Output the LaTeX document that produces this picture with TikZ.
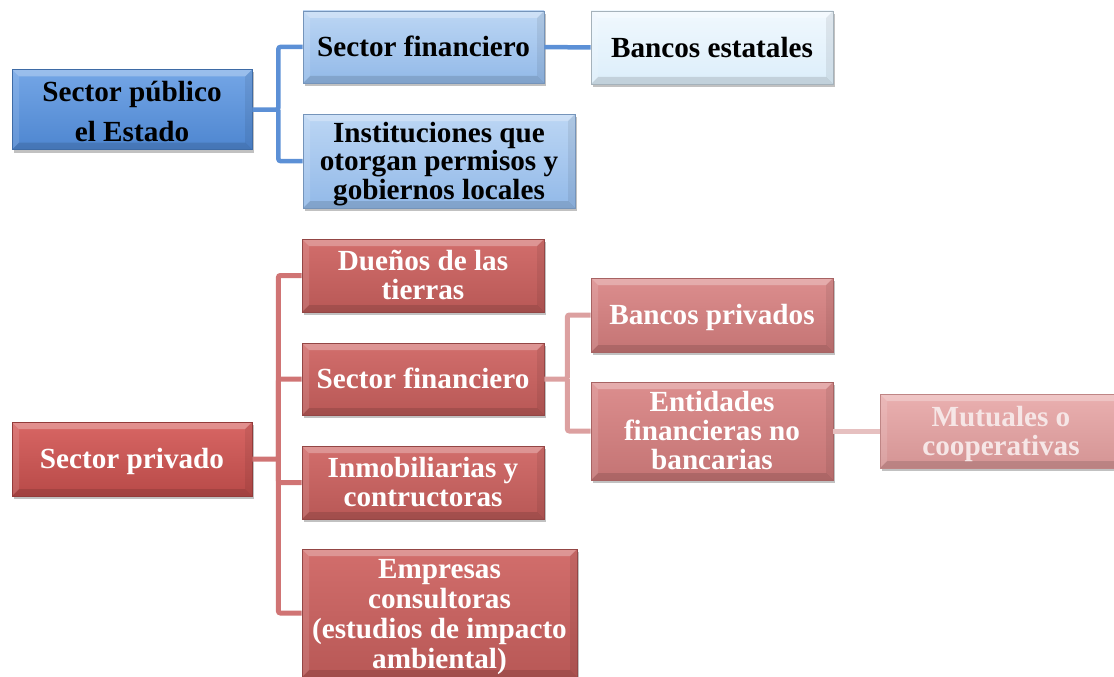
\documentclass[tikz,border=0pt]{standalone}
\usepackage{fontspec}
\setmainfont{Liberation Serif}
\usetikzlibrary{shadows}
\definecolor{bDarkT}{HTML}{74A6E6}
\definecolor{bDarkB}{HTML}{4E86D0}
\definecolor{bMidT}{HTML}{BCD6F4}
\definecolor{bMidB}{HTML}{92B9E8}
\definecolor{bLightT}{HTML}{F0F8FE}
\definecolor{bLightB}{HTML}{DCEEFA}
\definecolor{rDarkT}{HTML}{D86664}
\definecolor{rDarkB}{HTML}{B84A48}
\definecolor{rMidT}{HTML}{D26E6C}
\definecolor{rMidB}{HTML}{B85856}
\definecolor{rSubT}{HTML}{DC8E8E}
\definecolor{rSubB}{HTML}{C47474}
\definecolor{rLightT}{HTML}{EAB0B0}
\definecolor{rLightB}{HTML}{D49494}
\definecolor{bLine}{HTML}{5C90D6}
\definecolor{rLine}{HTML}{D07474}
\definecolor{rLine2}{HTML}{DCA0A0}
\definecolor{rLine3}{HTML}{E6C0C0}
\definecolor{mutText}{HTML}{F6E6E6}
\newcommand{\lbl}[2][29]{\raisebox{-4pt}[\height][\depth]{\fontsize{29.2}{#1}\selectfont\begin{tabular}{@{}c@{}}#2\end{tabular}}}
\tikzset{
  bevel/.style={path picture={
    \fill[white,opacity=0.28] (path picture bounding box.north west) -- (path picture bounding box.north east)
      -- ([xshift=-7pt,yshift=-7pt]path picture bounding box.north east) -- ([xshift=7pt,yshift=-7pt]path picture bounding box.north west) -- cycle;
    \fill[black,opacity=0.12] (path picture bounding box.south west) -- (path picture bounding box.south east)
      -- ([xshift=-7pt,yshift=7pt]path picture bounding box.south east) -- ([xshift=7pt,yshift=7pt]path picture bounding box.south west) -- cycle;
    \fill[white,opacity=0.12] (path picture bounding box.south west) -- (path picture bounding box.north west)
      -- ([xshift=7pt,yshift=-7pt]path picture bounding box.north west) -- ([xshift=7pt,yshift=7pt]path picture bounding box.south west) -- cycle;
    \fill[black,opacity=0.07] (path picture bounding box.south east) -- (path picture bounding box.north east)
      -- ([xshift=-7pt,yshift=-7pt]path picture bounding box.north east) -- ([xshift=-7pt,yshift=7pt]path picture bounding box.south east) -- cycle;
  }},
  box/.style={draw=#1, line width=0.8pt, inner sep=0pt, font=\bfseries, bevel,
    drop shadow={shadow xshift=2pt, shadow yshift=-3pt, opacity=0.35, fill=black!70}},
  bdark/.style={box=bDarkB!80!black, top color=bDarkT, bottom color=bDarkB, text=black},
  bmid/.style={box=bMidB!80!black, top color=bMidT, bottom color=bMidB, text=black},
  blight/.style={box=bLightB!75!black, top color=bLightT, bottom color=bLightB, text=black},
  rdark/.style={box=rDarkB!80!black, top color=rDarkT, bottom color=rDarkB, text=white},
  rmid/.style={box=rMidB!80!black, top color=rMidT, bottom color=rMidB, text=white},
  rsub/.style={box=rSubB!85!black, top color=rSubT, bottom color=rSubB, text=white},
  rlight/.style={box=rLightB!90!black, top color=rLightT, bottom color=rLightB, text=mutText},
  bconn/.style={draw=bLine, line width=4.5pt, rounded corners=2pt},
  rconn/.style={draw=rLine, line width=5pt, rounded corners=2pt},
  rconn2/.style={draw=rLine2, line width=5pt, rounded corners=2pt},
  rconn3/.style={draw=rLine3, line width=5pt},
}
\begin{document}
\begin{tikzpicture}[x=1pt,y=-1pt]
\useasboundingbox (0,0) rectangle (1114,677);
\clip (0,0) rectangle (1114,677);
% public sector
\node[bdark, minimum width=240pt, minimum height=73pt] (pub) at (132,109.5) {\lbl[40]{Sector público\\el Estado}};
\node[bmid, minimum width=241pt, minimum height=72pt] (bfin) at (423.5,47) {\lbl{Sector financiero}};
\node[blight, minimum width=242pt, minimum height=73pt] (best) at (712,47.5) {\lbl{Bancos estatales}};
\node[bmid, minimum width=272pt, minimum height=94pt] (inst) at (439,161) {\lbl[28]{Instituciones que\\otorgan permisos y\\gobiernos locales}};
% private sector
\node[rdark, minimum width=240pt, minimum height=74pt] (priv) at (132,459) {\lbl{Sector privado}};
\node[rmid, minimum width=242pt, minimum height=73pt] (due) at (423,275.5) {\lbl{Dueños de las\\tierras}};
\node[rmid, minimum width=242pt, minimum height=72pt] (rfin) at (423,379) {\lbl{Sector financiero}};
\node[rmid, minimum width=242pt, minimum height=73pt] (inmo) at (423,482.5) {\lbl{Inmobiliarias y\\contructoras}};
\node[rmid, minimum width=275pt, minimum height=128pt] (emp) at (439.5,613) {\lbl[30]{Empresas\\consultoras\\(estudios de impacto\\ambiental)}};
\node[rsub, minimum width=242pt, minimum height=74pt] (bpriv) at (712,315) {\lbl{Bancos privados}};
\node[rsub, minimum width=242pt, minimum height=98pt] (ent) at (712,431) {\lbl{Entidades\\financieras no\\bancarias}};
\node[rlight, minimum width=242pt, minimum height=74pt] (mut) at (1001,431) {\lbl{Mutuales o\\cooperativas}};
% connectors
\draw[bconn] (pub.east) -- ++(26,0) coordinate (bj) |- (bfin.west);
\draw[bconn] (bj) |- (inst.west);
\draw[bconn] (bfin.east) -- (best.west);
\draw[rconn] (priv.east) -- ++(26,0) coordinate (rj) |- (due.west);
\draw[rconn] (rj) |- (rfin.west);
\draw[rconn] (rj) |- (inmo.west);
\draw[rconn] (rj) |- (emp.west);
\draw[rconn2] (rfin.east) -- ++(23,0) coordinate (sj) |- (bpriv.west);
\draw[rconn2] (sj) |- (ent.west);
\draw[rconn3] (ent.east) -- (mut.west);
\end{tikzpicture}
\end{document}
